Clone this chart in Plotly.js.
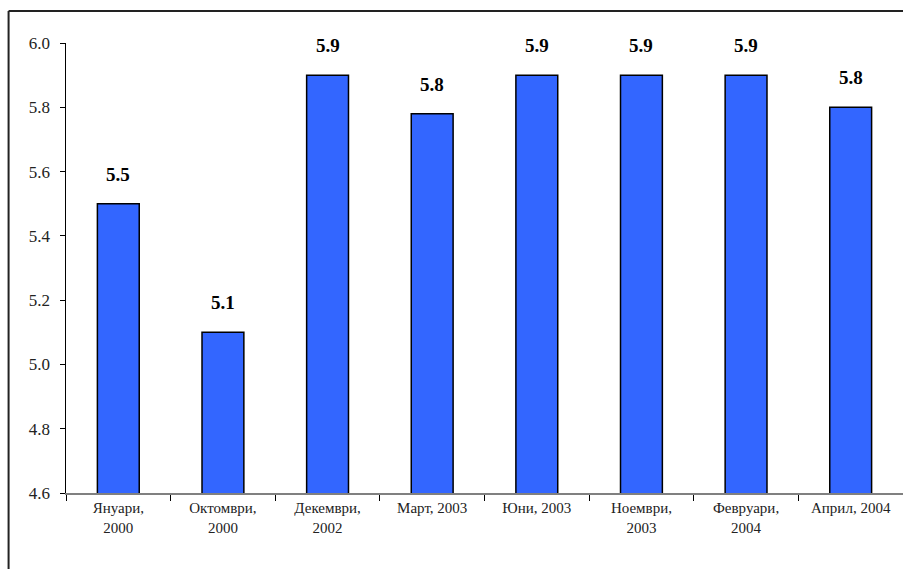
<!DOCTYPE html>
<html>
<head>
<meta charset="utf-8">
<script src="https://cdn.plot.ly/plotly-3.0.1.min.js"></script>
<style>html,body{margin:0;padding:0;background:#fff;}#chart{width:903px;height:569px;}</style>
</head>
<body>
<div id="chart"></div>
<script>
const categories = ["Јануари, 2000", "Октомври, 2000", "Декември, 2002", "Март, 2003", "Јуни, 2003", "Ноември, 2003", "Февруари, 2004", "Април, 2004"];
const tickLabels = ["Януари,<br>2000", "Октомври,<br>2000", "Декември,<br>2002", "Март, 2003", "Юни, 2003", "Ноември,<br>2003", "Февруари,<br>2004", "Април, 2004"];
const values = [5.5, 5.1, 5.9, 5.78, 5.9, 5.9, 5.9, 5.8];
const valueLabels = ["5.5", "5.1", "5.9", "5.8", "5.9", "5.9", "5.9", "5.8"];

const serif = "'Times New Roman', 'Liberation Serif', 'DejaVu Serif', serif";

const trace = {
  type: "bar",
  x: categories,
  y: values,
  width: 0.4,
  marker: {color: "#3366FF", line: {color: "#000000", width: 1.5}},
  hoverinfo: "none"
};

const annotations = categories.map((c, i) => ({
  x: c, y: values[i], xref: "x", yref: "y",
  text: "<b>" + valueLabels[i] + "</b>", showarrow: false,
  yanchor: "bottom", yshift: 17,
  font: {family: serif, size: 19, color: "#000", weight: "bold"}
}));

const layout = {
  width: 903, height: 569,
  margin: {l: 66, r: 0, t: 43, b: 76},
  paper_bgcolor: "#fff", plot_bgcolor: "#fff",
  showlegend: false,
  font: {family: serif, size: 15, color: "#111"},
  xaxis: {
    type: "category",
    tickvals: categories, ticktext: tickLabels,
    tickson: "boundaries", ticks: "outside", ticklen: 6, tickcolor: "#000", tickwidth: 1,
    showline: true, linecolor: "#808080", linewidth: 2,
    showgrid: false, zeroline: false,
    tickfont: {family: serif, size: 15, color: "#222"},
    tickangle: 0, fixedrange: true
  },
  yaxis: {
    range: [4.6, 6.0], dtick: 0.2, tick0: 4.6, tickformat: ".1f",
    ticks: "outside", ticklen: 5, tickcolor: "#000",
    showline: true, linecolor: "#000", linewidth: 1.5,
    showgrid: false, zeroline: false,
    tickfont: {family: serif, size: 17, color: "#222"},
    ticklabelstandoff: 6, fixedrange: true
  },
  annotations: annotations,
  shapes: [
    {type: "line", xref: "paper", yref: "paper", x0: -0.0686, x1: 1.01, y0: 1.071, y1: 1.071, line: {color: "#222", width: 2}},
    {type: "line", xref: "paper", yref: "paper", x0: -0.0686, x1: -0.0686, y0: 1.071, y1: -0.2, line: {color: "#222", width: 2}}
  ]
};

Plotly.newPlot("chart", [trace], layout, {displayModeBar: false, staticPlot: true});
</script>
</body>
</html>
